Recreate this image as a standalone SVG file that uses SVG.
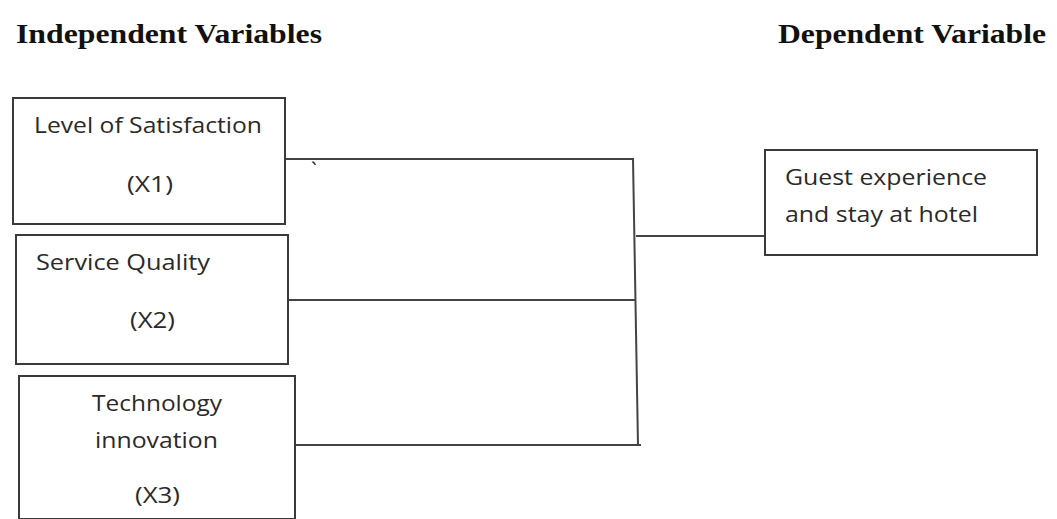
<svg xmlns="http://www.w3.org/2000/svg" width="1057" height="519" viewBox="0 0 1057 519">
<style>
.hdr{font-family:"Liberation Serif",serif;font-weight:bold;font-size:27px;fill:#111}
.box{fill:#fff;stroke:#3a3a3a;stroke-width:2}
.lbl{font-family:"Open Sans","Liberation Sans",sans-serif;font-size:21px;fill:#2a2a2a}
.ln{stroke:#444;stroke-width:2;fill:none}
</style>
<rect width="1057" height="519" fill="#fff"/>
<text class="hdr" x="16" y="43" textLength="306" lengthAdjust="spacingAndGlyphs">Independent Variables</text>
<text class="hdr" x="778" y="43" textLength="268" lengthAdjust="spacingAndGlyphs">Dependent Variable</text>
<g id="connectors">
<line class="ln" x1="285" y1="159" x2="634" y2="159"/>
<line class="ln" x1="633" y1="159" x2="638" y2="446"/>
<line class="ln" x1="288" y1="300" x2="636" y2="300"/>
<line class="ln" x1="295" y1="445" x2="641" y2="445"/>
<line class="ln" x1="636" y1="236" x2="765" y2="236"/>
</g>
<g id="x1">
<rect class="box" x="13" y="98" width="272" height="126"/>
<text class="lbl" x="34" y="133" textLength="228" lengthAdjust="spacingAndGlyphs">Level of Satisfaction</text>
<text class="lbl" x="127" y="192" textLength="46" lengthAdjust="spacingAndGlyphs">(X1)</text>
</g>
<text class="lbl" x="311" y="178" font-size="16">`</text>
<g id="x2">
<rect class="box" x="16" y="235" width="272" height="129"/>
<text class="lbl" x="36" y="270" textLength="174" lengthAdjust="spacingAndGlyphs">Service Quality</text>
<text class="lbl" x="130" y="328" textLength="45" lengthAdjust="spacingAndGlyphs">(X2)</text>
</g>
<g id="x3">
<rect class="box" x="19" y="376" width="276" height="143"/>
<text class="lbl" x="92" y="411" textLength="130" lengthAdjust="spacingAndGlyphs">Technology</text>
<text class="lbl" x="95" y="448" textLength="123" lengthAdjust="spacingAndGlyphs">innovation</text>
<text class="lbl" x="135" y="503" textLength="45" lengthAdjust="spacingAndGlyphs">(X3)</text>
</g>
<g id="y">
<rect class="box" x="765" y="150" width="272" height="105"/>
<text class="lbl" x="785" y="185" textLength="202" lengthAdjust="spacingAndGlyphs">Guest experience</text>
<text class="lbl" x="785" y="222" textLength="193" lengthAdjust="spacingAndGlyphs">and stay at hotel</text>
</g>
</svg>
